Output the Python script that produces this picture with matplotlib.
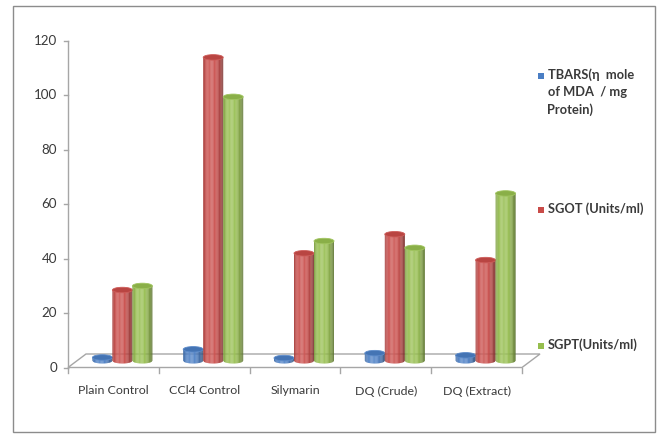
import numpy as np
import matplotlib
matplotlib.use("Agg")
import matplotlib.pyplot as plt
from matplotlib import transforms
from matplotlib.patches import Ellipse, Rectangle, Polygon
from matplotlib.collections import PolyCollection

plt.rcParams['font.family'] = ['Lato', 'DejaVu Sans']

categories = ["Plain Control", "CCl4 Control", "Silymarin", "DQ (Crude)", "DQ (Extract)"]
series_names = ["TBARS(\u03b7  mole\nof MDA  / mg\nProtein)", "SGOT (Units/ml)", "SGPT(Units/ml)"]
tbars = [1.2, 4.2, 1.0, 2.8, 2.0]
sgot = [26.0, 111.5, 39.5, 46.5, 37.0]
sgpt = [27.5, 97.0, 44.0, 41.5, 61.5]
y_ticks = [0, 20, 40, 60, 80, 100, 120]

series = [tbars, sgot, sgpt]
base_colors = ["#4A7EC4", "#C94B48", "#96BE4E"]

W, H = 664, 434
fig = plt.figure(figsize=(W / 100, H / 100), dpi=100)
fig.patch.set_facecolor("white")

# outer chart frame
frame = fig.add_axes([0, 0, 1, 1])
frame.set_xlim(0, W)
frame.set_ylim(H, 0)
frame.axis("off")
frame.add_patch(Rectangle((13, 6), 642, 426, fill=False, ec="#8C8C8C", lw=1.0))

x0, x1 = 68, 522
y0, y1 = 367.5, 41
ax = fig.add_axes([x0 / W, (H - y0) / H, (x1 - x0) / W, (y0 - y1) / H])
ax.set_xlim(0, len(categories))
ax.set_ylim(0, 120)
ax.axis("off")

# floor of the 3-D plot area
dx, dy = 18, 13.5
frame.add_patch(Polygon([(x0, y0), (x1, y0), (x1 + dx, y0 - dy), (x0 + dx, y0 - dy)],
                        closed=True, fc="white", ec="#A6A6A6", lw=1.0, zorder=1))
# value axis
frame.plot([x0, x0], [y1, y0], color="#A6A6A6", lw=1.0, zorder=2)
for t in y_ticks:
    yp = y0 - (y0 - y1) * t / 120
    frame.plot([x0 - 4, x0], [yp, yp], color="#A6A6A6", lw=1.0)
    frame.text(x0 - 11, yp, str(t), ha="right", va="center", fontsize=9.6, color="#3A3A3A")
# category axis
step = (x1 - x0) / len(categories)
for i in range(len(categories) + 1):
    xp = x0 + i * step
    frame.plot([xp, xp], [y0, y0 + 5.5], color="#A6A6A6", lw=1.0)
for i, c in enumerate(categories):
    frame.text(x0 + (i + 0.5) * step, 391, c, ha="center", va="center", fontsize=8.9, color="#3A3A3A")

# bars sit at mid-depth of the floor
depth = transforms.offset_copy(ax.transData, fig=fig, x=dx / 2, y=dy / 2, units="dots")
bar_w = 20 / step
ell_h = 5.5 / ((y0 - y1) / 120)


def shade(hex_color, f):
    c = np.array(matplotlib.colors.to_rgb(hex_color))
    if f >= 0:
        return tuple(c + (1 - c) * f)
    return tuple(c * (1 + f))


def cylinder(xc, h, color, z):
    left = xc - bar_w / 2
    n = 24
    xs = np.linspace(left, left + bar_w, n + 1)
    u = (np.arange(n) + 0.5) / n
    prof = 0.10 * np.exp(-((u - 0.38) / 0.22) ** 2) - 0.42 * (np.abs(u - 0.42) / 0.58) ** 2.5
    cols = [shade(color, p) for p in prof]
    polys = []
    for k in range(n):
        a, b = xs[k], min(xs[k + 1] + 1e-3, left + bar_w)
        ya = -ell_h / 2 * np.sqrt(max(0.0, 1 - ((a - xc) / (bar_w / 2)) ** 2))
        yb = -ell_h / 2 * np.sqrt(max(0.0, 1 - ((b - xc) / (bar_w / 2)) ** 2))
        polys.append([(a, ya), (b, yb), (b, h), (a, h)])
    pc = PolyCollection(polys, facecolors=cols, edgecolors="none", transform=depth, zorder=z)
    ax.add_collection(pc)
    # top cap
    ax.add_patch(Ellipse((xc, h), bar_w, ell_h, fc=shade(color, -0.08),
                         ec=shade(color, 0.1), lw=0.6, transform=depth, zorder=z + 0.5))


for i in range(len(categories)):
    for k, (vals, col) in enumerate(zip(series, base_colors)):
        xc = i + 0.5 + (k - 1) * bar_w
        cylinder(xc, vals[i], col, 3 + k)

# legend
legend_y = [(76, 0), (210, 1), (346, 2)]
for yp, k in legend_y:
    frame.add_patch(Rectangle((537.5, yp - 3), 6, 6, fc=base_colors[k], ec="none"))
    frame.text(547.5, yp - 7.5, series_names[k], ha="left", va="top", fontsize=9.3,
               fontweight="bold", color="#3A3A3A", linespacing=1.5)

fig.savefig("out.png", dpi=100, facecolor="white")
